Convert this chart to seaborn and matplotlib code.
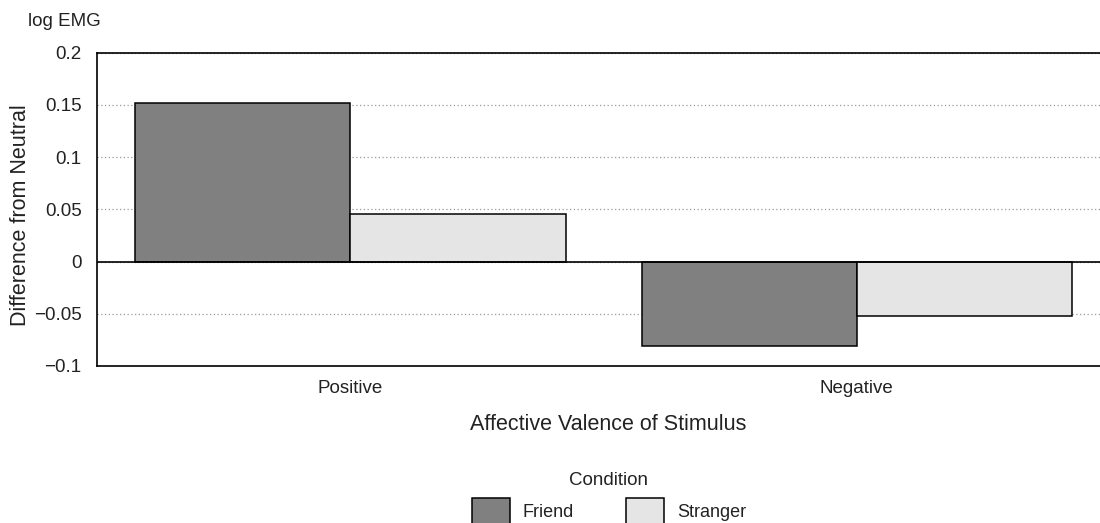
import pandas as pd
import matplotlib
matplotlib.use('Agg')
import matplotlib.pyplot as plt
import seaborn as sns

valence = ["Positive", "Negative"]
conditions = ["Friend", "Stranger"]
friend = [0.152, -0.081]
stranger = [0.046, -0.052]
yticks = [-0.1, -0.05, 0, 0.05, 0.1, 0.15, 0.2]
ytick_labels = ["\u22120.1", "\u22120.05", "0", "0.05", "0.1", "0.15", "0.2"]

df = pd.DataFrame({
    "Valence": valence * 2,
    "Condition": ["Friend"] * 2 + ["Stranger"] * 2,
    "Diff": friend + stranger,
})

sns.set_style("white")
plt.rcParams['font.family'] = ['Liberation Sans', 'DejaVu Sans']
plt.rcParams['text.color'] = '#222222'

fig = plt.figure(figsize=(11, 5.23), dpi=100)
ax = fig.add_axes([97 / 1100, (523 - 366) / 523, 1 - 97 / 1100, (366 - 52.7) / 523])

sns.barplot(data=df, x="Valence", y="Diff", hue="Condition", order=valence,
            hue_order=conditions, palette=["#808080", "#e5e5e5"],
            edgecolor="black", linewidth=1.1, width=0.85, saturation=1, ax=ax)

ax.set_xlim(-0.5, 1.48)
ax.set_ylim(-0.1, 0.2)
ax.set_yticks(yticks)
ax.set_yticklabels(ytick_labels)
ax.tick_params(axis='both', length=0, labelsize=13.5, colors='#222222')
ax.tick_params(axis='y', pad=11)
ax.tick_params(axis='x', pad=10)
ax.set_axisbelow(True)
ax.yaxis.grid(True, color='#999999', linestyle=(0, (1, 2)), linewidth=0.9)
ax.axhline(0, color='black', linewidth=1.2, zorder=1)
for s in ['left', 'top', 'bottom']:
    ax.spines[s].set_color('black')
    ax.spines[s].set_linewidth(1.2)
ax.spines['right'].set_visible(False)
ax.set_xlabel("")
ax.set_ylabel("")

fig.text(608 / 1100, 1 - 424 / 523, "Affective Valence of Stimulus",
         ha='center', va='center', fontsize=15.5)
fig.text(21 / 1100, 1 - 215 / 523, "Difference from Neutral",
         rotation=90, ha='center', va='center', fontsize=15.5)
fig.text(28 / 1100, 1 - 22 / 523, "log EMG", ha='left', va='center', fontsize=13.5)

handles, labels = ax.get_legend_handles_labels()
if ax.get_legend() is not None:
    ax.get_legend().remove()
fig.legend(handles, labels, title="Condition", ncol=2, loc='upper center',
           bbox_to_anchor=(609 / 1100, 1 - 463 / 523), frameon=False,
           fontsize=13, title_fontsize=13.5, handlelength=2.1, handleheight=1.8,
           handletextpad=0.7, columnspacing=2.9, borderpad=0)

fig.savefig("out.png", dpi=100)
